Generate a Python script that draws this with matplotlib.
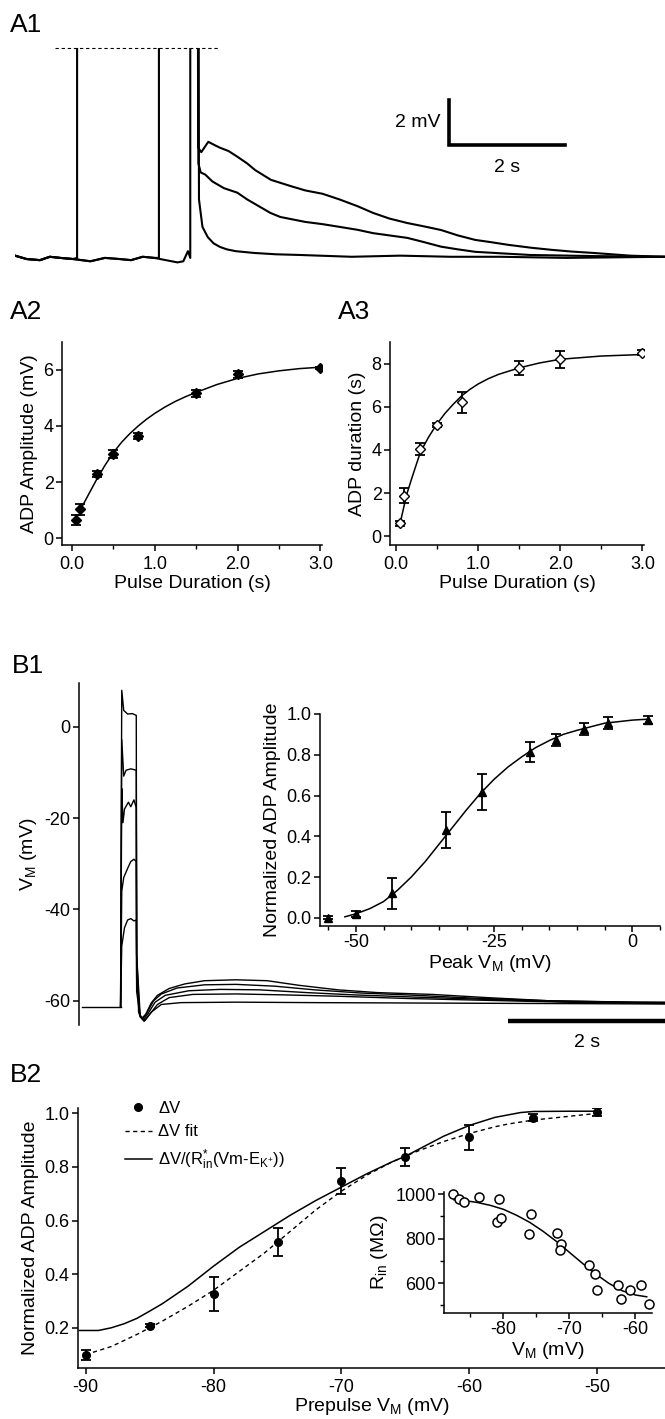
import matplotlib
matplotlib.use("Agg")
import matplotlib.pyplot as plt
from matplotlib.lines import Line2D
from matplotlib.ticker import MultipleLocator

plt.rcParams['font.family'] = ['Liberation Sans', 'DejaVu Sans']
plt.rcParams['mathtext.fontset'] = 'custom'
plt.rcParams['mathtext.rm'] = 'Liberation Sans'
plt.rcParams['mathtext.it'] = 'Liberation Sans:italic'
plt.rcParams['mathtext.bf'] = 'Liberation Sans:bold'
plt.rcParams['axes.unicode_minus'] = False

# ---------------- A1: ADP traces after 3 pulse durations (s, mV) ----------------
base_t = [0.0, 0.2, 0.43, 0.6, 0.78, 1.0, 1.3, 1.55, 1.8, 2.0, 2.2, 2.4, 2.6, 2.8, 2.9, 2.98]
base_v = [0.1, -0.05, -0.1, 0.05, 0.0, -0.05, -0.15, 0.0, -0.05, -0.1, 0.05, 0.0, -0.1, -0.2, -0.15, 0.3]
pulse_on = [1.07, 2.48, 3.02]
pulse_off = 3.14
pulse_top = 40.0
adp_long_t = [3.155, 3.21, 3.33, 3.45, 3.53, 3.68, 3.83, 4.0, 4.14, 4.41, 4.74, 5.0, 5.3, 5.59, 5.9, 6.17, 6.45, 6.76, 7.05, 7.34, 7.63, 7.93, 8.2, 8.5, 8.9, 9.24, 9.6, 9.97, 10.6, 11.2]
adp_long_v = [4.9, 4.7, 5.16, 5.0, 4.9, 4.75, 4.5, 4.2, 3.9, 3.47, 3.2, 3.0, 2.85, 2.6, 2.3, 2.0, 1.75, 1.55, 1.4, 1.24, 1.0, 0.8, 0.7, 0.58, 0.45, 0.36, 0.28, 0.22, 0.1, 0.05]
adp_mid_t = [3.16, 3.2, 3.28, 3.4, 3.6, 3.83, 4.0, 4.2, 4.4, 4.57, 5.0, 5.3, 5.59, 5.9, 6.17, 6.45, 6.76, 7.05, 7.34, 7.63, 7.93, 8.4, 8.88, 10.0, 11.2]
adp_mid_v = [4.2, 3.8, 3.7, 3.4, 3.1, 2.9, 2.6, 2.3, 2.0, 1.82, 1.6, 1.5, 1.38, 1.25, 1.1, 1.0, 0.89, 0.7, 0.5, 0.38, 0.27, 0.2, 0.13, 0.08, 0.05]
adp_short_t = [3.17, 3.23, 3.32, 3.42, 3.53, 3.65, 3.8, 4.12, 4.5, 4.91, 5.8, 6.64, 7.5, 8.36, 9.5, 11.2]
adp_short_v = [2.6, 1.38, 0.93, 0.65, 0.49, 0.38, 0.3, 0.22, 0.16, 0.13, 0.05, 0.1, 0.05, 0.05, 0.0, 0.05]
clip_level = 9.33

# ---------------- A2 / A3 ----------------
dur = [0.05, 0.1, 0.3, 0.5, 0.8, 1.5, 2.0, 3.0]
amp = [0.64, 1.03, 2.28, 3.0, 3.65, 5.17, 5.85, 6.07]
amp_err = [0.18, 0.2, 0.1, 0.15, 0.1, 0.12, 0.12, 0.05]
amp_fit_t = [0.1, 0.2, 0.3, 0.4, 0.5, 0.6, 0.7, 0.8, 0.9, 1.0, 1.125, 1.25, 1.375, 1.5, 1.75, 2.0, 2.25, 2.5, 2.75, 3.0]
amp_fit_v = [1.0, 1.55, 2.1, 2.6, 3.05, 3.42, 3.73, 4.0, 4.24, 4.45, 4.68, 4.88, 5.05, 5.2, 5.48, 5.7, 5.86, 5.97, 6.05, 6.1]

adp_dur = [0.6, 1.88, 4.05, 5.15, 6.2, 7.8, 8.2, 8.5]
adp_dur_err = [0.1, 0.34, 0.27, 0.1, 0.5, 0.33, 0.4, 0.12]
dur_fit_t = [0.05, 0.13, 0.2, 0.3, 0.4, 0.5, 0.6, 0.7, 0.8, 0.9, 1.0, 1.125, 1.25, 1.5, 1.75, 2.0, 2.5, 3.0]
dur_fit_v = [0.55, 1.9, 2.75, 3.9, 4.6, 5.2, 5.7, 6.12, 6.5, 6.8, 7.05, 7.3, 7.5, 7.8, 8.03, 8.2, 8.35, 8.42]

# ---------------- B1: voltage traces (s, mV) ----------------
b1_pre_t = [0.04, 0.53]
b1_pre_v = [-61.3, -61.3]
b1_traces = [
    ([0.53, 0.545, 0.57, 0.62, 0.68, 0.73, 0.735, 0.76, 0.80, 0.85, 0.92, 1.0, 1.15, 1.35, 1.6, 2.0, 2.4, 2.8, 3.3, 3.8, 4.5, 5.2, 6.0, 7.0, 7.47],
     [-61.3, 8.0, 3.6, 2.8, 2.9, 2.5, -50, -62.5, -63.8, -63.0, -60.5, -58.8, -57.3, -56.3, -55.6, -55.4, -55.6, -56.6, -57.6, -58.2, -58.6, -59.3, -60.0, -60.3, -60.3]),
    ([0.53, 0.545, 0.57, 0.6, 0.66, 0.73, 0.735, 0.77, 0.81, 0.87, 0.95, 1.05, 1.25, 1.6, 2.0, 2.5, 3.0, 3.6, 4.3, 5.0, 6.0, 7.47],
     [-61.3, -2.8, -10.8, -9.5, -9.2, -9.5, -50, -63.0, -64.0, -62.5, -60.0, -58.5, -57.2, -56.5, -56.4, -56.8, -57.6, -58.3, -58.8, -59.4, -60.0, -60.4]),
    ([0.53, 0.545, 0.56, 0.58, 0.63, 0.66, 0.7, 0.73, 0.735, 0.78, 0.82, 0.88, 0.97, 1.1, 1.4, 1.8, 2.3, 2.9, 3.5, 4.3, 5.2, 6.2, 7.47],
     [-61.3, -13.5, -21.0, -18.0, -16.5, -17.5, -16.0, -17.7, -50, -63.2, -64.2, -62.8, -60.3, -58.8, -57.8, -57.5, -57.6, -58.2, -58.7, -59.2, -59.7, -60.2, -60.5]),
    ([0.53, 0.545, 0.57, 0.62, 0.66, 0.7, 0.73, 0.735, 0.78, 0.83, 0.9, 1.0, 1.15, 1.45, 2.0, 2.6, 3.3, 4.2, 5.2, 6.2, 7.47],
     [-61.3, -36.0, -33.0, -31.0, -29.5, -29.0, -29.5, -55, -63.5, -64.5, -63.0, -60.8, -59.3, -58.6, -58.5, -58.7, -59.0, -59.5, -59.9, -60.3, -60.6]),
    ([0.53, 0.545, 0.58, 0.62, 0.66, 0.7, 0.73, 0.735, 0.78, 0.84, 0.92, 1.05, 1.3, 2.0, 3.0, 4.5, 6.0, 7.47],
     [-61.3, -48.0, -44.0, -42.3, -42.0, -42.5, -42.3, -58, -63.5, -64.3, -62.5, -60.8, -60.4, -60.3, -60.4, -60.5, -60.6, -60.7]),
]

# B1 inset
peak_vm = [-55.1, -50.0, -43.5, -33.7, -27.2, -18.5, -13.8, -8.7, -4.4, 2.9]
norm_adp = [0.0, 0.02, 0.12, 0.43, 0.617, 0.815, 0.872, 0.926, 0.956, 0.97]
norm_adp_err = [0.008, 0.015, 0.075, 0.088, 0.09, 0.05, 0.03, 0.03, 0.03, 0.02]
peak_fit_x = [-52, -50, -47.5, -45, -42.5, -40, -37.5, -35, -32.5, -30, -27.5, -25, -22.5, -20, -17.5, -15, -12.5, -10, -5, 0, 3]
peak_fit_y = [0.005, 0.02, 0.045, 0.08, 0.135, 0.2, 0.275, 0.36, 0.445, 0.53, 0.61, 0.68, 0.74, 0.79, 0.835, 0.87, 0.9, 0.92, 0.955, 0.97, 0.975]

# ---------------- B2 ----------------
pre_vm = [-90, -85, -80, -75, -70, -65, -60, -55, -50]
dv = [0.099, 0.208, 0.326, 0.52, 0.748, 0.837, 0.91, 0.984, 1.005]
dv_err = [0.02, 0.006, 0.065, 0.052, 0.047, 0.035, 0.047, 0.012, 0.015]
dv_fit_x = [-90, -88, -86, -85, -84, -82, -80, -78, -76, -75, -74, -72, -70, -68, -66, -65, -64, -62, -60, -58, -57, -55, -52, -50]
dv_fit_y = [0.1, 0.13, 0.175, 0.2, 0.225, 0.28, 0.34, 0.41, 0.48, 0.52, 0.56, 0.64, 0.71, 0.77, 0.82, 0.84, 0.86, 0.895, 0.925, 0.95, 0.96, 0.975, 0.99, 1.0]
corr_x = [-90.5, -89, -88, -87, -86, -85, -84, -82, -80, -78, -76, -75, -74, -72, -70, -68, -66, -65, -64, -62, -60, -58, -56, -55, -52, -50]
corr_y = [0.19, 0.19, 0.2, 0.215, 0.235, 0.262, 0.29, 0.355, 0.43, 0.5, 0.56, 0.59, 0.62, 0.675, 0.725, 0.775, 0.82, 0.84, 0.865, 0.915, 0.955, 0.985, 1.003, 1.007, 1.008, 1.008]

# B2 inset: input resistance
rin_vm = [-87.6, -86.8, -86.0, -83.7, -80.6, -81.0, -80.3, -75.8, -76.2, -71.9, -71.3, -71.5, -67.0, -66.1, -65.9, -62.7, -62.2, -60.9, -59.2, -58.0]
rin = [1000, 980, 967, 989, 980, 874, 894, 909, 823, 826, 777, 750, 682, 641, 568, 591, 527, 568, 591, 505]
rin_fit_x = [-87.5, -86, -84, -82, -80, -78, -76, -74, -72, -70, -68, -66, -64, -62, -60, -58.3]
rin_fit_y = [975, 972, 963, 950, 932, 905, 873, 833, 788, 738, 688, 640, 598, 565, 546, 538]

W, H = 665, 1419
TICK = 13
LAB = 14


def box(l, t, r, b):
    return [l / W, 1 - b / H, (r - l) / W, (b - t) / H]


def style(ax, fs=TICK):
    ax.spines['top'].set_visible(False)
    ax.spines['right'].set_visible(False)
    for s in ['left', 'bottom']:
        ax.spines[s].set_linewidth(1.1)
    ax.tick_params(direction='out', length=4, width=1.1, labelsize=fs, pad=2)
    ax.tick_params(which='minor', direction='out', length=3, width=1.0)


fig = plt.figure(figsize=(W / 100, H / 100), dpi=100)

# A1
ax = fig.add_axes(box(15, 48, 665, 275))
ax.axis('off')
ax.set_xlim(0, 11.2)
ax.set_ylim(-0.76, clip_level)
for on, at, av in [(pulse_on[0], adp_long_t, adp_long_v),
                   (pulse_on[1], adp_mid_t, adp_mid_v),
                   (pulse_on[2], adp_short_t, adp_short_v)]:
    t = [x for x in base_t if x < on] + [on, on, pulse_off, pulse_off] + at
    v = [y for x, y in zip(base_t, base_v) if x < on] + [0.0, pulse_top, pulse_top, pulse_top] + av
    ax.plot(t, v, color='k', lw=1.5)
ax.plot([0.69, 3.5], [clip_level, clip_level], color='k', lw=0.8, ls=(0, (3, 2.5)), clip_on=False)
ax.plot([7.48, 7.48, 9.48], [7.02, 5.02, 5.02], color='k', lw=2.6, solid_joinstyle='miter')
ax.text(7.33, 6.04, '2 mV', ha='right', va='center', fontsize=LAB)
ax.text(8.48, 4.04, '2 s', ha='center', va='center', fontsize=LAB)

# A2
ax = fig.add_axes(box(62, 342, 322, 545))
style(ax)
ax.plot(amp_fit_t, amp_fit_v, color='k', lw=1.1)
ax.errorbar(dur, amp, yerr=amp_err, fmt='D', ms=5, color='k', capsize=3.5,
            elinewidth=1.3, capthick=1.3)
ax.set_xlim(-0.12, 3.02)
ax.set_ylim(-0.25, 7)
ax.xaxis.set_major_locator(MultipleLocator(1))
ax.xaxis.set_minor_locator(MultipleLocator(0.5))
ax.yaxis.set_major_locator(MultipleLocator(2))
ax.xaxis.set_major_formatter(lambda x, p: f'{x:.1f}')
ax.tick_params(axis='x', pad=4)
ax.set_xlabel('Pulse Duration (s)', fontsize=LAB, labelpad=1)
ax.set_ylabel('ADP Amplitude (mV)', fontsize=LAB, labelpad=4)

# A3
ax = fig.add_axes(box(390, 342, 644, 545))
style(ax)
ax.plot(dur_fit_t, dur_fit_v, color='k', lw=1.1)
ax.errorbar(dur, adp_dur, yerr=adp_dur_err, fmt='D', ms=5, color='k', mfc='white',
            mec='k', capsize=3.5, elinewidth=1.3, capthick=1.3)
ax.set_xlim(-0.07, 3.02)
ax.set_ylim(-0.4, 9)
ax.xaxis.set_major_locator(MultipleLocator(1))
ax.xaxis.set_minor_locator(MultipleLocator(0.5))
ax.yaxis.set_major_locator(MultipleLocator(2))
ax.xaxis.set_major_formatter(lambda x, p: f'{x:.1f}')
ax.tick_params(axis='x', pad=4)
ax.set_xlabel('Pulse Duration (s)', fontsize=LAB, labelpad=1)
ax.set_ylabel('ADP duration (s)', fontsize=LAB, labelpad=4)

# B1 main
ax = fig.add_axes(box(79, 683, 665, 1025))
style(ax)
ax.spines['bottom'].set_visible(False)
ax.set_xticks([])
ax.plot(b1_pre_t, b1_pre_v, color='k', lw=1.0)
for t, v in b1_traces:
    ax.plot(t, v, color='k', lw=1.0)
ax.set_xlim(0, 7.47)
ax.set_ylim(-65.3, 9.6)
ax.set_yticks([0, -20, -40, -60])
ax.set_ylabel('V$_{\\mathrm{M}}$ (mV)', fontsize=LAB, labelpad=4)
ax.plot([5.47, 7.6], [-64.4, -64.4], color='k', lw=3.2, clip_on=False, solid_capstyle='butt')
ax.text(6.48, -69.2, '2 s', ha='center', va='center', fontsize=LAB)

# B1 inset
ax = fig.add_axes(box(320, 714, 660, 926))
style(ax)
ax.patch.set_alpha(0)
ax.plot(peak_fit_x, peak_fit_y, color='k', lw=1.1)
ax.errorbar(peak_vm, norm_adp, yerr=norm_adp_err, fmt='^', ms=6, color='k', capsize=3.5,
            elinewidth=1.3, capthick=1.3)
ax.set_xlim(-56.5, 5)
ax.set_ylim(-0.04, 1.0)
ax.set_xticks([-50, -25, 0])
ax.xaxis.set_minor_locator(MultipleLocator(5))
ax.yaxis.set_major_locator(MultipleLocator(0.2))
ax.yaxis.set_major_formatter(lambda y, p: f'{y:.1f}')
ax.set_xlabel('Peak V$_{\\mathrm{M}}$ (mV)', fontsize=LAB, labelpad=1)
ax.set_ylabel('Normalized ADP Amplitude', fontsize=LAB, labelpad=4)

# B2 main
ax = fig.add_axes(box(78, 1108, 665, 1368))
style(ax)
ax.plot(corr_x, corr_y, color='k', lw=1.1)
ax.plot(dv_fit_x, dv_fit_y, color='k', lw=1.0, ls=(0, (3, 2.5)))
ax.errorbar(pre_vm, dv, yerr=dv_err, fmt='o', ms=5.5, color='k', capsize=3.5,
            elinewidth=1.3, capthick=1.3)
ax.set_xlim(-90.6, -44.7)
ax.set_ylim(0.05, 1.02)
ax.xaxis.set_major_locator(MultipleLocator(10))
ax.set_yticks([0.2, 0.4, 0.6, 0.8, 1.0])
ax.yaxis.set_major_formatter(lambda y, p: f'{y:.1f}')
ax.tick_params(axis='x', pad=4)
ax.set_xlabel('Prepulse V$_{\\mathrm{M}}$ (mV)', fontsize=LAB, labelpad=0)
ax.set_ylabel('Normalized ADP Amplitude', fontsize=LAB, labelpad=4)
handles = [Line2D([], [], marker='o', ls='none', color='k', ms=5.5),
           Line2D([], [], color='k', lw=1.0, ls=(0, (3, 2.5))),
           Line2D([], [], color='k', lw=1.1)]
labels = ['ΔV', 'ΔV fit', 'ΔV/(R$_{\\mathrm{in}}^{*}$(Vm-E$_{\\mathrm{K^{+}}}$))']
fig.legend(handles, labels, loc='upper left', bbox_to_anchor=(125 / W, 1 - 1101 / H),
           frameon=False, fontsize=12, handlelength=1.6, handletextpad=0.4,
           labelspacing=0.5, borderpad=0, borderaxespad=0, numpoints=1)

# B2 inset
ax = fig.add_axes(box(444, 1192, 652, 1313))
style(ax)
ax.plot(rin_fit_x, rin_fit_y, color='k', lw=1.1)
ax.plot(rin_vm, rin, 'o', ms=6.5, mfc='white', mec='k', mew=1.1, clip_on=False)
ax.set_xlim(-89, -57.5)
ax.set_ylim(465, 1010)
ax.set_xticks([-80, -70, -60])
ax.xaxis.set_minor_locator(MultipleLocator(5))
ax.set_yticks([600, 800, 1000])
ax.yaxis.set_minor_locator(MultipleLocator(100))
ax.set_xlabel('V$_{\\mathrm{M}}$ (mV)', fontsize=LAB, labelpad=1)
ax.set_ylabel('R$_{\\mathrm{in}}$ (MΩ)', fontsize=LAB, labelpad=4)

# panel letters
for lab, x, y in [('A1', 10, 25), ('A2', 10, 312), ('A3', 338, 312), ('B1', 12, 666), ('B2', 10, 1075)]:
    fig.text(x / W, 1 - y / H, lab, fontsize=19, ha='left', va='center')

fig.savefig('out.png', dpi=100)
